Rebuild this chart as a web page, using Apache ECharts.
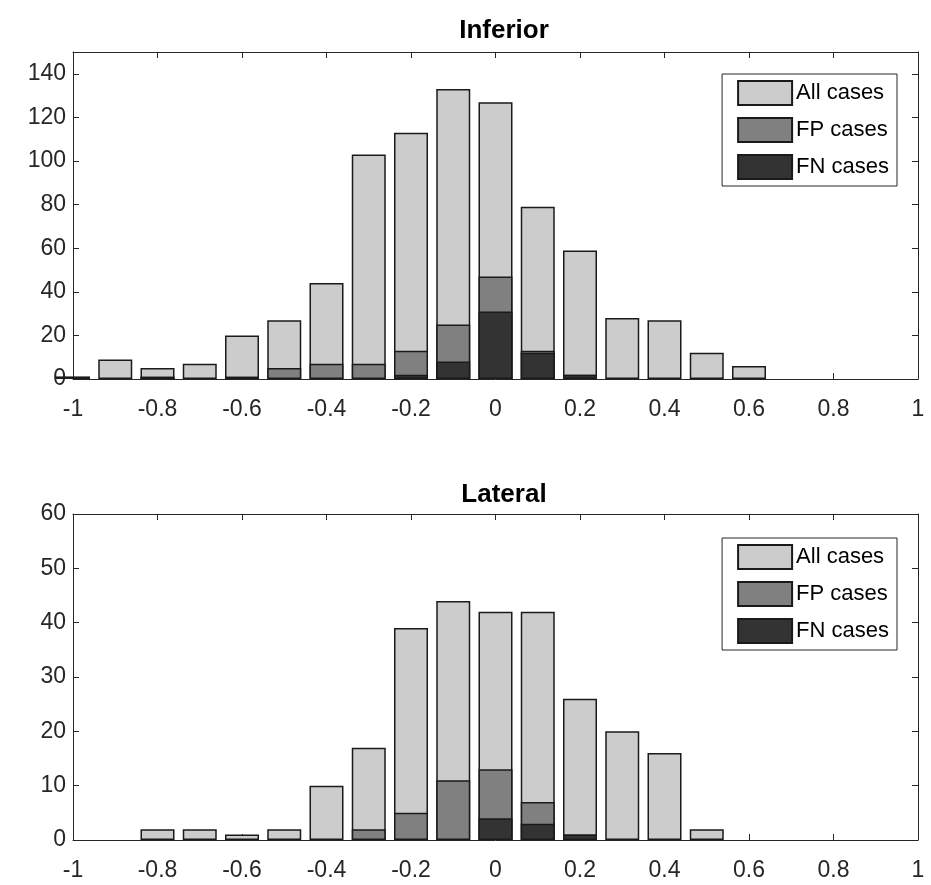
<!DOCTYPE html>
<html>
<head>
<meta charset="utf-8">
<script src="https://cdn.jsdelivr.net/npm/echarts@6/dist/echarts.min.js"></script>
<style>
html,body{margin:0;padding:0;background:#fff;}
#chart{width:931px;height:885px;}
</style>
</head>
<body>
<div id="chart"></div>
<script>
// bin centres
const binCenters = [-1.0,-0.9,-0.8,-0.7,-0.6,-0.5,-0.4,-0.3,-0.2,-0.1,0.0,0.1,0.2,0.3,0.4,0.5,0.6,0.7,0.8,0.9,1.0];
// Inferior
const infAll = [1,9,5,7,20,27,44,103,113,133,127,79,59,28,27,12,6,0,0,0,0];
const infFP  = [1,0,1,0,1,5,7,7,13,25,47,13,2,0,0,0,0,0,0,0,0];
const infFN  = [1,0,1,0,1,0,0,0,2,8,31,12,2,0,0,0,0,0,0,0,0];
// Lateral
const latAll = [0,0,2,2,1,2,10,17,39,44,42,42,26,20,16,2,0,0,0,0,0];
const latFP  = [0,0,0,0,0,0,0,2,5,11,13,7,1,0,0,0,0,0,0,0,0];
const latFN  = [0,0,0,0,0,0,0,0,0,0,4,3,1,0,0,0,0,0,0,0,0];

const titles = ['Inferior','Lateral'];
const seriesNames = ['All cases','FP cases','FN cases'];

const colors = ['#cccccc','#808080','#333333'];
const FONT = 'Liberation Sans';
const axisCol = '#262626';

function toData(vals){
  const out=[];
  vals.forEach((v,i)=>{ if(v>0) out.push([binCenters[i], v]); });
  return out;
}

const grids = [
  {left:73, right:13, top:52, height:327},
  {left:73, right:13, top:514, height:326}
];
const yMax = [150, 60];
const yInt = [20, 10];
const sets = [[infAll,infFP,infFN],[latAll,latFP,latFN]];

const xAxes=[], yAxes=[], series=[], titleArr=[], legends=[];
grids.forEach((g,gi)=>{
  xAxes.push({
    type:'value', gridIndex:gi, min:-1, max:1, interval:0.2, position:'bottom',
    axisLine:{show:true,onZero:false,lineStyle:{color:axisCol,width:1}},
    axisTick:{show:true,inside:true,length:6,lineStyle:{color:axisCol}},
    splitLine:{show:false},
    axisLabel:{color:axisCol,fontFamily:FONT,fontSize:23,margin:19,
      formatter:v=>String(Math.round(v*10)/10)}
  });
  xAxes.push({
    type:'value', gridIndex:gi, min:-1, max:1, interval:0.2, position:'top',
    axisLine:{show:true,onZero:false,lineStyle:{color:axisCol,width:1}},
    axisTick:{show:true,inside:true,length:6,lineStyle:{color:axisCol}},
    splitLine:{show:false}, axisLabel:{show:false}
  });
  yAxes.push({
    type:'value', gridIndex:gi, min:0, max:yMax[gi], interval:yInt[gi], position:'left',
    axisLine:{show:true,onZero:false,lineStyle:{color:axisCol,width:1}},
    axisTick:{show:true,inside:true,length:6,lineStyle:{color:axisCol}},
    splitLine:{show:false},
    axisLabel:{color:axisCol,fontFamily:FONT,fontSize:23,margin:7,showMaxLabel:gi===1}
  });
  yAxes.push({
    type:'value', gridIndex:gi, min:0, max:yMax[gi], interval:yInt[gi], position:'right',
    axisLine:{show:true,onZero:false,lineStyle:{color:axisCol,width:1}},
    axisTick:{show:true,inside:true,length:6,lineStyle:{color:axisCol}},
    splitLine:{show:false}, axisLabel:{show:false}
  });
  sets[gi].forEach((vals,si)=>{
    series.push({
      type:'bar', name:seriesNames[si], xAxisIndex:gi*2, yAxisIndex:gi*2,
      data:toData(vals), barWidth:34, barGap:'-100%', clip:true,
      itemStyle:{color:colors[si], borderColor:'#1a1a1a', borderWidth:1.5},
      emphasis:{disabled:true}, z:2+si
    });
  });
  titleArr.push({
    text:titles[gi], left:499, textAlign:'center', top: gi===0?13:477,
    textStyle:{fontFamily:FONT,fontSize:26,fontWeight:'bold',color:'#000'}
  });
  legends.push({
    data:seriesNames, orient:'vertical', right:34, top: gi===0?74:538,
    backgroundColor:'#fff', borderColor:axisCol, borderWidth:1,
    padding:[6,8,6,15], itemWidth:54, itemHeight:24, itemGap:11,
    icon:'rect', selectedMode:false,
    textStyle:{fontFamily:FONT,fontSize:22,color:'#000',width:108,padding:[0,0,0,-1]}
  });
});

const chart = echarts.init(document.getElementById('chart'), null, {renderer:'canvas'});
chart.setOption({
  animation:false,
  backgroundColor:'#fff',
  title:titleArr,
  legend:legends,
  grid:grids,
  xAxis:xAxes,
  yAxis:yAxes,
  series:series
});
</script>
</body>
</html>
